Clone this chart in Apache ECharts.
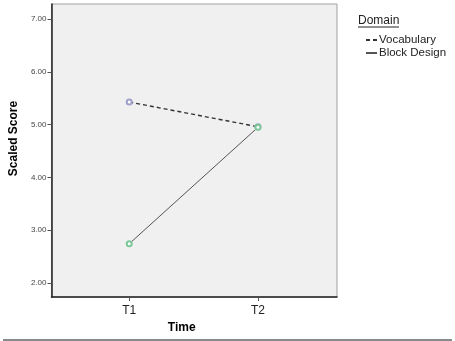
<!DOCTYPE html>
<html>
<head>
<meta charset="utf-8">
<script src="https://cdn.jsdelivr.net/npm/echarts@6/dist/echarts.min.js"></script>
<style>
  html, body { margin: 0; padding: 0; background: #fff; }
  #chart { width: 455px; height: 341px; }
</style>
</head>
<body>
<div id="chart"></div>
<script>
// data
const timePoints = ['T1', 'T2']
const vocabulary = [5.43, 4.96]
const blockDesign = [2.74, 4.95]
const yTicks = [2, 3, 4, 5, 6, 7]

const font = 'Liberation Sans, Arial, sans-serif'
const toPairs = (vals) => vals.map((v, i) => [i + 1, v])

const chart = echarts.init(document.getElementById('chart'), null, { renderer: 'canvas' })

const option = {
  animation: false,
  backgroundColor: '#fff',
  textStyle: { fontFamily: font },
  grid: {
    left: 48,
    top: 4,
    width: 289,
    height: 293,
    show: true,
    backgroundColor: '#f0f0f0',
    borderColor: '#a0a0a0',
    borderWidth: 1
  },
  legend: {
    orient: 'vertical',
    left: 360,
    top: 29,
    itemWidth: 11,
    itemHeight: 8,
    itemGap: 1,
    textStyle: { fontFamily: font, fontSize: 11.5, color: '#222', padding: [0, 0, 0, -3] },
    data: [
      { name: 'Vocabulary', itemStyle: { opacity: 0 } },
      { name: 'Block Design', itemStyle: { opacity: 0 } }
    ]
  },
  graphic: [
    { // legend title
      type: 'text', left: 358, top: 15,
      style: { text: 'Domain', fontFamily: font, fontSize: 12, fill: '#222' }
    },
    {
      type: 'line', shape: { x1: 358, y1: 27, x2: 399, y2: 27 },
      style: { stroke: '#222', lineWidth: 1 }
    },
    { // rule under the chart
      type: 'line', shape: { x1: 3, y1: 340, x2: 452, y2: 340 },
      style: { stroke: '#8a8a8a', lineWidth: 2 }
    }
  ],
  xAxis: {
    type: 'value',
    min: 0.396,
    max: 2.614,
    name: 'Time',
    nameLocation: 'middle',
    nameGap: 12,
    nameTextStyle: { fontFamily: font, fontSize: 12, fontWeight: 'bold', color: '#000', padding: [0, 25, 0, 0] },
    splitLine: { show: false },
    axisLine: { show: true, lineStyle: { color: '#222', width: 1.5 } },
    axisTick: { show: true, customValues: [1, 2], length: 4, inside: false, lineStyle: { color: '#555' } },
    axisLabel: {
      customValues: [1, 2],
      margin: 8,
      fontFamily: font,
      fontSize: 12,
      color: '#222',
      formatter: (v) => timePoints[Math.round(v) - 1] || ''
    }
  },
  yAxis: {
    type: 'value',
    min: 1.73,
    max: 7.29,
    name: 'Scaled Score',
    nameLocation: 'middle',
    nameRotate: 90,
    nameGap: 31,
    nameTextStyle: { fontFamily: font, fontSize: 12, fontWeight: 'bold', color: '#000', padding: [0, 0, 0, 24] },
    splitLine: { show: false },
    axisLine: { show: true, lineStyle: { color: '#222', width: 1.5 } },
    axisTick: { show: true, customValues: yTicks, length: 4, lineStyle: { color: '#555' } },
    axisLabel: {
      customValues: yTicks,
      margin: 5,
      fontFamily: font,
      fontSize: 8,
      color: '#444',
      formatter: (v) => v.toFixed(2)
    }
  },
  series: [
    {
      name: 'Vocabulary',
      type: 'line',
      data: toPairs(vocabulary),
      symbol: 'emptyCircle',
      symbolSize: 5,
      color: '#222',
      itemStyle: { color: '#a0a0cc', borderColor: '#9090c0', borderWidth: 1 },
      lineStyle: { color: '#333', width: 1.4, type: [4, 3] }
    },
    {
      name: 'Block Design',
      type: 'line',
      data: toPairs(blockDesign),
      symbol: 'emptyCircle',
      symbolSize: 5,
      color: '#444',
      itemStyle: { color: '#7cc898', borderColor: '#5cb585', borderWidth: 1 },
      lineStyle: { color: '#555', width: 1 },
      z: 3
    }
  ]
}

chart.setOption(option)
</script>
</body>
</html>
